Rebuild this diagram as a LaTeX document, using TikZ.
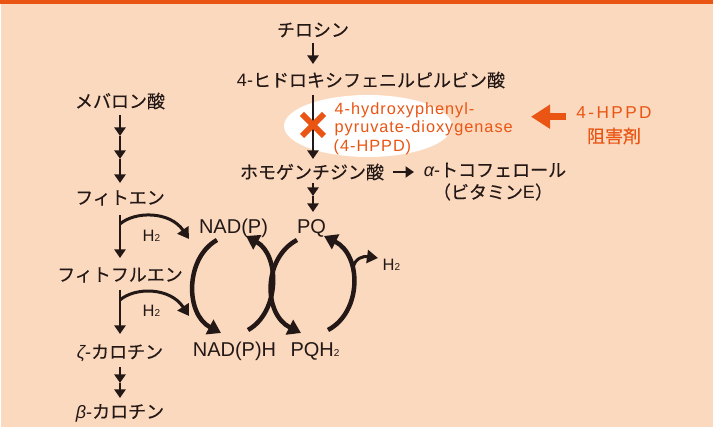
\documentclass[tikz,border=0pt]{standalone}
\usepackage{fontspec}
\setmainfont{Noto Sans CJK JP}[FakeBold=0.3]
\newfontfamily\lat{Liberation Sans}
\newfontfamily\latw{Liberation Sans}[LetterSpace=6]
\newfontfamily\latww{Liberation Sans}[LetterSpace=14]
\usetikzlibrary{arrows.meta,calc}
\definecolor{bg}{RGB}{251,217,191}
\definecolor{og}{RGB}{234,85,20}
\definecolor{ink}{RGB}{35,24,21}
\newcommand{\subtwo}{{\fontsize{10}{10}\selectfont 2}}
\newcommand{\lt}[1]{{\lat #1}}
\begin{document}
\begin{tikzpicture}[x=1pt,y=-1pt,
  jp/.style={font=\fontsize{18}{20}\selectfont, text=ink, inner sep=0pt, anchor=center},
  la/.style={font=\lat\fontsize{20}{22}\selectfont, text=ink, inner sep=0pt, anchor=base},
  hl/.style={font=\lat\fontsize{16.5}{18}\selectfont, text=ink, inner sep=0pt, anchor=base west},
  sarr/.style={draw=ink, line width=2.4pt, -{Triangle[width=11pt,length=8.5pt]}},
  carr/.style={draw=ink, line width=3pt, -{Triangle[width=13pt,length=11pt]}},
  barr/.style={draw=ink, line width=4.5pt, -{Triangle[width=16pt,length=13pt]}},
  etext/.style={font=\latw\fontsize{16.3}{18}\selectfont, text=og, inner sep=0pt, anchor=base west},
]
\useasboundingbox (0,0) rectangle (716,427);
\fill[white] (0,0) rectangle (716,427);
\fill[bg] (1,0) rectangle (713,427);
\fill[og] (0,0) rectangle (713,4);

% ellipse
\fill[white] (368,126) ellipse [x radius=84, y radius=31];

% central column
\node[jp] (tyr) at (313,30) {チロシン};
\node[jp] (hpp) at (371,80) {\lt{4-}ヒドロキシフェニルピルビン酸};
\node[jp] (hga) at (312,172) {ホモゲンチジン酸};
\node[jp] (toc) at (495,170) {{\lat\itshape α}\lt{-}トコフェロール};
\node[jp] (vite) at (493,192) {（ビタミン\lt{E}）};
\coordinate (tyrb) at (313,43);
\coordinate (hppt) at (313,64);
\coordinate (hppb) at (313,95);
\coordinate (hgat) at (313,159);
\draw[sarr] (tyrb) -- (hppt);
\draw[sarr] (hppb) -- (hgat);
\coordinate (hgr) at (393,172);
\coordinate (tocl) at (414,172);
\draw[sarr] (hgr) -- (tocl);
\coordinate (pq1) at (313,183);
\coordinate (pq2) at (313,196);
\coordinate (pq3) at (313,212);
\draw[sarr] (pq1) -- (pq2);
\draw[sarr] (pq2) -- (pq3);

% X mark
\coordinate (xc) at (313,125);
\draw[og, line width=6pt] ($(xc)+(-11,-11)$) -- ($(xc)+(11,11)$);
\draw[og, line width=6pt] ($(xc)+(-11,11)$) -- ($(xc)+(11,-11)$);

% enzyme text
\node[etext] (e1) at (334.5,114.7) {4-hydroxyphenyl-};
\node[etext] (e2) at (334.5,133) {pyruvate-dioxygenase};
\node[etext] (e3) at (333.5,151.3) {(4-HPPD)};

% inhibitor
\node[font=\latww\fontsize{17.2}{19}\selectfont, text=og, inner sep=0pt, anchor=base] (inh1) at (614,119) {4-HPPD};
\node[font=\fontsize{18}{20}\selectfont, text=og, inner sep=0pt] (inh2) at (614,136) {阻害剤};
\coordinate (ia) at (566,116.7);
\coordinate (ib) at (531,116.7);
\draw[og, line width=7.5pt, -{Triangle[width=23pt,length=19pt]}] (ia) -- (ib);

% left column
\node[jp] (mev) at (120,101) {メバロン酸};
\node[jp] (phy) at (120,198) {フィトエン};
\node[jp] (pfl) at (120,275) {フィトフルエン};
\node[jp] (zc) at (120,353) {{\lat\itshape ζ}\lt{-}カロチン};
\node[jp] (bc) at (120,413) {{\lat\itshape β}\lt{-}カロチン};
\coordinate (m1) at (120,115);
\coordinate (m2) at (120,136);
\coordinate (m3) at (120,159);
\coordinate (m4) at (120,183);
\draw[sarr] (m1) -- (m2);
\draw[sarr] (m2) -- (m3);
\draw[sarr] (m3) -- (m4);
\coordinate (p1) at (120,215);
\coordinate (p2) at (120,258);
\draw[sarr] (p1) -- (p2);
\coordinate (f1) at (120,290);
\coordinate (f2) at (120,334);
\draw[sarr] (f1) -- (f2);
\coordinate (z1) at (120,367);
\coordinate (z2) at (120,383);
\coordinate (z3) at (120,398);
\draw[sarr] (z1) -- (z2);
\draw[sarr] (z2) -- (z3);

% cycle labels
\node[la] (nadp) at (233.5,234) {NAD(P)};
\node[la] (pq) at (311.5,234) {PQ};
\node[la] (nadph) at (234.5,356.5) {NAD(P)H};
\node[la] (pqh) at (315,356.5) {PQH\subtwo};
\node[hl] (h2r) at (382.5,270.7) {H\subtwo};
\node[hl] (h2a) at (142.5,241.7) {H\subtwo};
\node[hl] (h2b) at (142.5,317) {H\subtwo};

% H2 curved arrows
\coordinate (c1s) at (120,224);
\coordinate (c1e) at (189,239);
\draw[carr] (c1s) .. controls (135,211) and (170,211) .. (c1e);
\coordinate (c2s) at (120,300);
\coordinate (c2e) at (189,316);
\draw[carr] (c2s) .. controls (135,287) and (170,287) .. (c2e);

% cycle arcs
\coordinate (a1s) at (217,240);
\coordinate (a1e) at (221,333);
\draw[barr] (a1s) .. controls (185,258) and (185,314) .. (a1e);
\coordinate (a2s) at (248,330);
\coordinate (a2e) at (246,236);
\draw[barr] (a2s) .. controls (280,312) and (280,255) .. (a2e);
\coordinate (a3s) at (297,240);
\coordinate (a3e) at (301,333);
\draw[barr] (a3s) .. controls (263,258) and (263,314) .. (a3e);
\coordinate (a4s) at (328,330);
\coordinate (a4e) at (324,236);
\draw[barr] (a4s) .. controls (362,312) and (362,255) .. (a4e);
\coordinate (b1s) at (353,268);
\coordinate (b1e) at (378,258);
\draw[carr] (b1s) .. controls (355,258) and (363,256) .. (b1e);
\end{tikzpicture}
\end{document}
